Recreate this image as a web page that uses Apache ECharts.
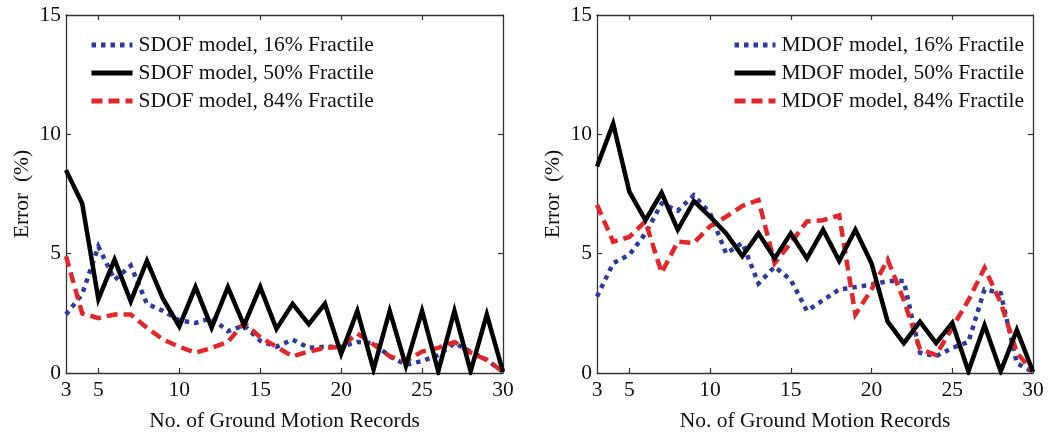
<!DOCTYPE html>
<html><head><meta charset="utf-8">
<script src="https://cdn.jsdelivr.net/npm/echarts@6/dist/echarts.min.js"></script>
<style>html,body{margin:0;padding:0;background:#fff}#c{width:1049px;height:437px}</style>
</head><body><div id="c"></div><script>
const records = [3,4,5,6,7,8,9,10,11,12,13,14,15,16,17,18,19,20,21,22,23,24,25,26,27,28,29,30];
const xTickLabels = [3,5,10,15,20,25,30];
const xTickMarks = [5,10,15,20,25];
const yTicks = [0,5,10,15];

const sdof16 = [2.45,3.3,5.3,3.9,4.5,2.9,2.6,2.2,2.1,2.3,1.75,2.0,1.35,1.1,1.4,1.05,1.1,1.1,1.3,1.25,0.7,0.35,0.5,0.75,1.25,0.9,0.55,0.05];
const sdof50 = [8.5,7.1,3.1,4.75,3.0,4.7,3.1,1.95,3.6,1.9,3.6,2.0,3.6,1.85,2.9,2.05,2.9,0.8,2.6,0.15,2.6,0.3,2.6,0.07,2.6,0.07,2.45,0.05];
const sdof84 = [4.9,2.5,2.3,2.45,2.45,1.9,1.4,1.1,0.85,1.05,1.3,2.1,1.5,1.1,0.7,0.9,1.05,1.1,1.65,1.2,0.7,0.5,0.9,1.05,1.3,0.85,0.55,0.05];

const mdof16 = [3.2,4.6,4.95,5.85,7.1,6.8,7.45,6.7,5.0,5.45,3.75,4.45,3.9,2.6,3.05,3.5,3.6,3.7,3.85,3.85,0.85,0.7,1.05,1.3,3.5,3.35,0.4,0.05];
const mdof50 = [8.65,10.45,7.6,6.4,7.55,6.0,7.2,6.55,5.85,4.9,5.85,4.8,5.85,4.8,6.0,4.7,6.0,4.6,2.15,1.25,2.15,1.25,2.1,0.07,2.0,0.07,1.8,0.05];
const mdof84 = [7.05,5.5,5.7,6.35,4.2,5.5,5.45,6.15,6.55,7.0,7.25,4.6,5.45,6.35,6.4,6.6,2.45,3.5,4.75,3.05,1.0,0.75,1.9,3.05,4.4,2.95,0.85,0.05];

const names = {
  s16:'SDOF model, 16% Fractile', s50:'SDOF model, 50% Fractile', s84:'SDOF model, 84% Fractile',
  m16:'MDOF model, 16% Fractile', m50:'MDOF model, 50% Fractile', m84:'MDOF model, 84% Fractile'
};
const BLUE = '#2e3b9c', RED = '#e3262a', BLACK = '#000';
const FONT = 'Liberation Serif';
const FS = 21.5;
const pairs = v => records.map((r,i)=>[r,v[i]]);

function xAx(gi, pos){
  return {
    type:'value', gridIndex:gi, position:pos, min:3, max:30,
    axisLine:{show:true, onZero:false, lineStyle:{color:'#333', width:1.3}},
    axisTick:{show:true, inside:true, length:5, customValues:xTickMarks, lineStyle:{color:'#333', width:1.2}},
    axisLabel:{show:pos==='bottom', customValues:xTickLabels, color:'#111', fontFamily:FONT, fontSize:FS, margin:6},
    splitLine:{show:false},
    name: pos==='bottom' ? 'No. of Ground Motion Records' : '',
    nameLocation:'middle', nameGap:37,
    nameTextStyle:{color:'#111', fontFamily:FONT, fontSize:FS}
  };
}
function yAx(gi, pos){
  return {
    type:'value', gridIndex:gi, position:pos, min:0, max:15, interval:5,
    axisLine:{show:true, onZero:false, lineStyle:{color:'#333', width:1.3}},
    axisTick:{show:true, inside:true, length:5, customValues:[5,10], lineStyle:{color:'#333', width:1.2}},
    axisLabel:{show:pos==='left', customValues:yTicks, color:'#111', fontFamily:FONT, fontSize:FS, margin:5},
    splitLine:{show:false},
    name: pos==='left' ? 'Error  (%)' : '',
    nameLocation:'middle', nameGap:33,
    nameTextStyle:{color:'#111', fontFamily:FONT, fontSize:FS}
  };
}
function ser(name, data, color, type, xi, yi, z){
  return {
    name, type:'line', data:pairs(data), xAxisIndex:xi, yAxisIndex:yi,
    symbol:'none', showSymbol:false, z:z, animation:false,
    lineStyle:{color, width:4.5, type, cap:'butt', join:'miter'},
    itemStyle:{color}
  };
}
const DOT = [4.5,5], DASH = [11,6];

function leg(data, left){
  return {data, left, top:34, orient:'vertical', padding:0,
    itemWidth:41, itemHeight:14, itemGap:6,
    itemStyle:{opacity:0},
    lineStyle:{width:5},
    textStyle:{fontFamily:FONT, fontSize:FS, lineHeight:22, color:'#111', padding:[0,0,0,1]}};
}

const chart = echarts.init(document.getElementById('c'), null, {renderer:'canvas'});
chart.setOption({
  backgroundColor:'#fff',
  animation:false,
  grid:[
    {left:66, right:546, top:15, bottom:63},
    {left:597, right:16, top:15, bottom:63}
  ],
  xAxis:[xAx(0,'bottom'), xAx(0,'top'), xAx(1,'bottom'), xAx(1,'top')],
  yAxis:[yAx(0,'left'), yAx(0,'right'), yAx(1,'left'), yAx(1,'right')],
  legend:[
    leg([names.s16,names.s50,names.s84], 89),
    leg([names.m16,names.m50,names.m84], 732)
  ],
  series:[
    ser(names.s16, sdof16, BLUE, DOT, 0, 0, 2),
    ser(names.s50, sdof50, BLACK, 'solid', 0, 0, 4),
    ser(names.s84, sdof84, RED, DASH, 0, 0, 3),
    ser(names.m16, mdof16, BLUE, DOT, 2, 2, 2),
    ser(names.m50, mdof50, BLACK, 'solid', 2, 2, 4),
    ser(names.m84, mdof84, RED, DASH, 2, 2, 3)
  ]
});
</script></body></html>
